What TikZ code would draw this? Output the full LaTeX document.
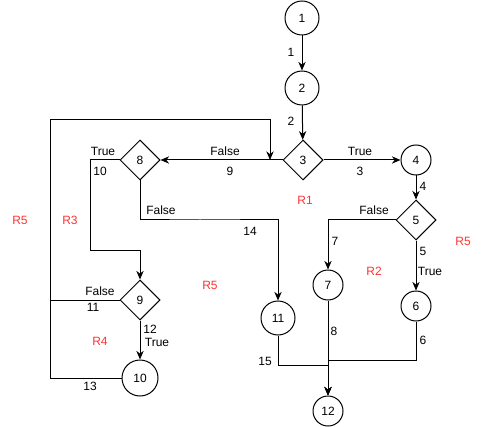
\documentclass[tikz,border=0pt]{standalone}
\usepackage{fontspec}
\setmainfont{Liberation Sans}
\usetikzlibrary{shapes.geometric,arrows.meta}
\definecolor{rlab}{HTML}{FF3333}
\begin{document}
\begin{tikzpicture}[x=0.75pt,y=-0.75pt,
  every node/.style={font=\fontsize{9pt}{10pt}\selectfont},
  circ/.style={draw,circle,line width=0.75pt,inner sep=0pt},
  dia/.style={draw,diamond,line width=0.75pt,inner sep=0pt,minimum width=30pt,minimum height=30pt},
  arr/.style={line width=0.75pt,-{Stealth[length=6.5pt,width=5.5pt]}},
  ln/.style={line width=0.75pt},
  lab/.style={inner sep=0pt},
  reg/.style={inner sep=0pt,text=rlab}]
\useasboundingbox (0,0) rectangle (484,427);
% nodes
\node[circ,minimum size=25.5pt] (n1) at (302,18) {1};
\node[circ,minimum size=25.5pt] (n2) at (302,88) {2};
\node[dia] (n3) at (303,160) {3};
\node[circ,minimum size=22.5pt] (n4) at (416,160) {4};
\node[dia] (n5) at (416,220) {5};
\node[circ,minimum size=22.5pt] (n6) at (416,306) {6};
\node[circ,minimum size=22.5pt] (n7) at (328,285) {7};
\node[dia] (n8) at (140,160) {8};
\node[dia] (n9) at (140,300) {9};
\node[circ,minimum size=27pt] (n10) at (140,378) {10};
\node[circ,minimum size=25.5pt] (n11) at (278,318) {11};
\node[circ,minimum size=22.5pt] (n12) at (328,411) {12};
% helper coordinates
\coordinate (j6) at (328,360);
\coordinate (j11) at (328,365);
\coordinate (c14) at (200,220);
\coordinate (c10) at (90,250);
\coordinate (j9) at (50,300);
\coordinate (lc) at (50,120);
\coordinate (lt) at (270,160);
% edges
\draw[arr] (n1) -- (n2);
\draw[arr] (n2) -- (n3);
\draw[arr] (n3.east) -- (n4);
\draw[arr] (n4) -- (n5);
\draw[arr] (n5) -- (n6);
\draw[arr] (n5.west) -| (n7.north);
\draw[arr] (n6.south) |- (j6) -- (n12.north);
\draw[arr] (n7) -- (n12);
\draw[arr] (n11.south) |- (j11) -- (n12.north);
\draw[arr] (n3.west) -- (n8.east);
\draw[arr] (n8.south) |- (c14) -| (n11.north);
\draw[arr] (n8.west) -| (c10) -| (n9.north);
\draw[arr] (n9) -- (n10);
\draw[ln] (n9.west) -- (j9);
\draw[arr] (n10.west) -| (lc) -| (lt);
% edge labels
\node[lab] (l1) at (291,52) {1};
\node[lab] (l2) at (291,121) {2};
\node[lab] (l3t) at (360,151) {True};
\node[lab] (l3) at (360,171) {3};
\node[lab] (l4) at (423,186) {4};
\node[lab] (l7f) at (374,210) {False};
\node[lab] (l7) at (335,241) {7};
\node[lab] (l5) at (423,251) {5};
\node[lab] (l5t) at (430,271) {True};
\node[lab] (l6) at (423,340) {6};
\node[lab] (l8) at (334,331) {8};
\node[lab] (l15) at (265,361) {15};
\node[lab] (l9f) at (225,151) {False};
\node[lab] (l9) at (230,171) {9};
\node[lab] (l14f) at (161,210) {False};
\node[lab] (l14) at (250,231) {14};
\node[lab] (l10t) at (103,151) {True};
\node[lab] (l10) at (100,171) {10};
\node[lab] (l11f) at (100,291) {False};
\node[lab] (l11) at (93,307) {11};
\node[lab] (l12) at (150,329) {12};
\node[lab] (l12t) at (157,342) {True};
\node[lab] (l13) at (90,386) {13};
% region labels
\node[reg] (r5a) at (20,220) {R5};
\node[reg] (r3) at (70,220) {R3};
\node[reg] (r1) at (305,200) {R1};
\node[reg] (r2) at (374,271) {R2};
\node[reg] (r5b) at (463,241) {R5};
\node[reg] (r5c) at (210,285) {R5};
\node[reg] (r4) at (100,341) {R4};
\end{tikzpicture}
\end{document}
